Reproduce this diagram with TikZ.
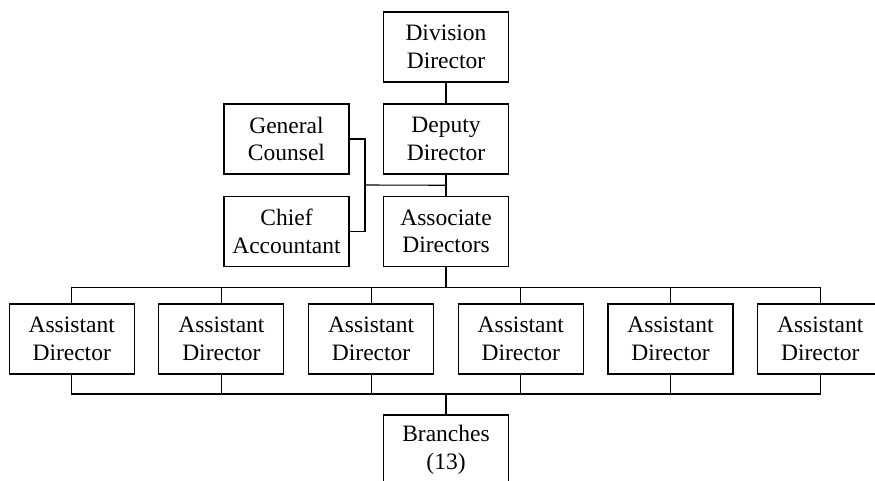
\documentclass[tikz,border=0pt]{standalone}
\usepackage{fontspec}
\setmainfont{Liberation Serif}
\usetikzlibrary{calc}

\begin{document}
\begin{tikzpicture}[x=1pt, y=-1pt, line width=1.1pt,
		orgbox/.style={draw, minimum width=125pt, minimum height=70pt, inner sep=0pt, align=center, font=\fontsize{23.5}{27.5}\selectfont}]
	\useasboundingbox (0,0) rectangle (875,480);

	\node [orgbox] (div) at (446,47) {Division\\Director};
	\node [orgbox] (dep) at (446,139) {Deputy\\Director};
	\node [orgbox] (assoc) at (446,231.5) {Associate\\Directors};
	\node [orgbox] (gc) at (286.5,139) {General\\Counsel};
	\node [orgbox] (ca) at (286.5,231.5) {Chief\\Accountant};
	\foreach \i in {1,...,6}
		\node [orgbox] (asst\i) at ({71.7+149.7*(\i-1)},339) {Assistant\\Director};
	\node [orgbox] (br) at (446,450) {Branches\\(13)};

	\draw (div) -- (dep);
	\draw (dep) -- (assoc);

	% staff offices
	\coordinate (tap) at ($(dep.south)!0.5!(assoc.north)$);
	\coordinate (staff) at (365,185);
	\draw (gc.east) -| (staff) |- (ca.east);
	\draw (staff) -- (tap);

	% assistant directors
	\coordinate (topbus) at (446,287.3);
	\coordinate (botbus) at (446,394);
	\draw (assoc) -- (topbus);
	\draw (asst1.north) -- (asst1.north |- topbus) -- (asst6.north |- topbus) -- (asst6.north);
	\draw (asst1.south) -- (asst1.south |- botbus) -- (asst6.south |- botbus) -- (asst6.south);
	\foreach \i in {2,...,5} {
		\draw (asst\i.north) -- (asst\i.north |- topbus);
		\draw (asst\i.south) -- (asst\i.south |- botbus);
	}
	\draw (botbus) -- (br);
\end{tikzpicture}
\end{document}
